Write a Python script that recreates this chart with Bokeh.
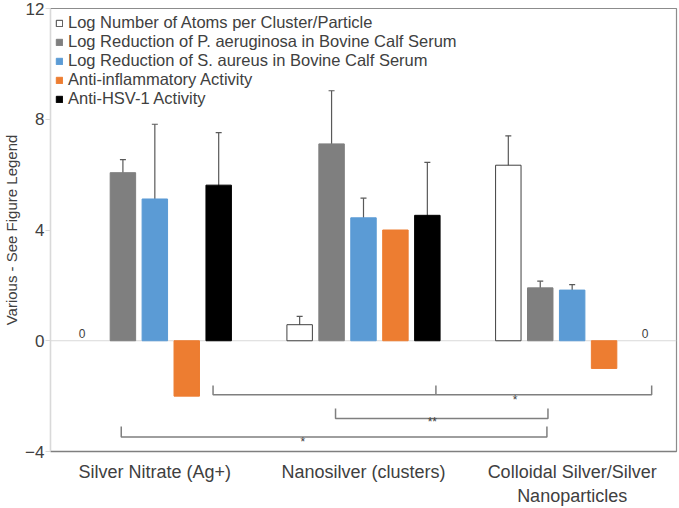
from bokeh.plotting import figure
from bokeh.models import (ColumnDataSource, FactorRange, Range1d, FixedTicker,
                          Whisker, TeeHead, Span, Legend, LegendItem)
from bokeh.transform import dodge
from bokeh.core.properties import value
from bokeh.embed import file_html
from bokeh.resources import INLINE

categories = ["Silver Nitrate (Ag+)", "Nanosilver (clusters)",
              "Colloidal Silver/Silver\nNanoparticles"]
series_names = ["Log Number of Atoms per Cluster/Particle",
                "Log Reduction of P. aeruginosa in Bovine Calf Serum",
                "Log Reduction of S. aureus in Bovine Calf Serum",
                "Anti-inflammatory Activity",
                "Anti-HSV-1 Activity"]
atoms = [0.0, 0.58, 6.34]
atoms_err = [0.0, 0.30, 1.06]
p_aeruginosa = [6.07, 7.11, 1.91]
p_aeruginosa_err = [0.47, 1.92, 0.24]
s_aureus = [5.12, 4.44, 1.83]
s_aureus_err = [2.70, 0.71, 0.20]
anti_inflammatory = [-2.0, 4.0, -1.0]
anti_inflammatory_err = [0.0, 0.0, 0.0]
anti_hsv = [5.62, 4.53, 0.0]
anti_hsv_err = [1.90, 1.91, 0.0]
y_ticks = [-4, 0, 4, 8, 12]

# significance brackets (category-axis units, data units)
bracket_start = [0.779, 1.366, 0.339]
bracket_end = [2.881, 2.384, 2.379]
bracket_level = [-1.95, -2.81, -3.48]
bracket_tip = [-1.62, -2.45, -3.10]
bracket_mid = [1.847, None, None]
bracket_label = ["*", "**", "*"]
label_x = [2.226, 1.83, 1.209]
label_y = [-2.13, -2.95, -3.66]

values = [atoms, p_aeruginosa, s_aureus, anti_inflammatory, anti_hsv]
errors = [atoms_err, p_aeruginosa_err, s_aureus_err, anti_inflammatory_err, anti_hsv_err]
fills = ["#ffffff", "#7f7f7f", "#5b9bd5", "#ed7d31", "#000000"]
lines = ["#404040", "#7f7f7f", "#5b9bd5", "#ed7d31", "#000000"]
offsets = [-0.306, -0.153, 0.0, 0.153, 0.306]

FONT = "Liberation Sans"
TXT = "#404040"

p = figure(x_range=FactorRange(*categories), y_range=Range1d(-4, 12),
           width=679, height=508, output_backend="svg", toolbar_location=None,
           min_border_top=8, min_border_right=3, min_border_left=10, min_border_bottom=0)
p.xgrid.grid_line_color = None
p.ygrid.grid_line_color = None
p.outline_line_color = "#8c8c8c"
p.outline_line_width = 1.2
p.x_range.range_padding = 0

p.add_layout(Span(location=0, dimension="width", line_color="#d9d9d9",
                  line_width=1, level="underlay"))

items = []
for i, name in enumerate(series_names):
    src = ColumnDataSource(dict(cat=categories, val=values[i],
                                la=[0.0 if v == 0 else 1.0 for v in values[i]]))
    r = p.vbar(x=dodge("cat", offsets[i], range=p.x_range), top="val", bottom=0,
               width=0.122, source=src, fill_color=fills[i], line_color=lines[i],
               line_alpha="la", line_width=1)
    items.append(LegendItem(label=name, renderers=[r], index=1))
    cats = [c for c, e in zip(categories, errors[i]) if e > 0]
    if cats:
        vals = [v for v, e in zip(values[i], errors[i]) if e > 0]
        errs = [e for e in errors[i] if e > 0]
        esrc = ColumnDataSource(dict(cat=cats,
                                     upper=[v + e for v, e in zip(vals, errs)],
                                     lower=[v - e for v, e in zip(vals, errs)]))
        w = Whisker(base=dodge("cat", offsets[i], range=p.x_range), upper="upper",
                    lower="lower", source=esrc, line_color="#595959", line_width=1.2,
                    upper_head=TeeHead(size=6, line_color="#595959", line_width=1.2),
                    lower_head=TeeHead(size=6, line_color="#595959", line_width=1.2))
        p.add_layout(w)

# zero-value data labels
p.text(x=dodge("cat", offsets[0], range=p.x_range), y="v", text="txt",
       source=ColumnDataSource(dict(cat=[categories[0]], v=[atoms[0]], txt=["0"])),
       x_offset=-9, y_offset=-3, text_align="center", text_baseline="bottom",
       text_font=value(FONT), text_font_size="12px", text_color=TXT)
p.text(x=dodge("cat", offsets[4], range=p.x_range), y="v", text="txt",
       source=ColumnDataSource(dict(cat=[categories[2]], v=[anti_hsv[2]], txt=["0"])),
       x_offset=9, y_offset=-3, text_align="center", text_baseline="bottom",
       text_font=value(FONT), text_font_size="12px", text_color=TXT)

# significance brackets
bx, by = [], []
for s, e, lv, tp, m in zip(bracket_start, bracket_end, bracket_level, bracket_tip, bracket_mid):
    bx.append([s, s, e, e])
    by.append([tp, lv, lv, tp])
    if m is not None:
        bx.append([m, m])
        by.append([lv, tp])
p.multi_line(xs=bx, ys=by, line_color="#7f7f7f", line_width=1.5)
p.text(x=label_x, y=label_y, text=bracket_label, text_align="center",
       text_baseline="middle", text_font=value(FONT), text_font_size="12px",
       text_color=TXT)

legend = Legend(items=items, location="top_left", border_line_color=None,
                background_fill_alpha=0, label_text_font=FONT,
                label_text_font_size="16.5px", label_text_color=TXT,
                glyph_width=8, glyph_height=8, label_height=16, label_standoff=5,
                spacing=0, padding=2, margin=5)
p.add_layout(legend)

p.yaxis.ticker = FixedTicker(ticks=y_ticks)
p.yaxis.axis_label = "Various - See Figure Legend"
p.yaxis.axis_label_text_font = FONT
p.yaxis.axis_label_text_font_size = "15px"
p.yaxis.axis_label_text_font_style = "normal"
p.yaxis.axis_label_text_color = TXT
p.yaxis.axis_label_standoff = 2
p.yaxis.major_label_text_font = FONT
p.yaxis.major_label_text_font_size = "17px"
p.yaxis.major_label_text_color = TXT
p.yaxis.axis_line_color = "#d9d9d9"
p.yaxis.major_tick_line_color = "#d9d9d9"
p.yaxis.major_tick_out = 5
p.yaxis.major_tick_in = 0
p.yaxis.minor_tick_line_color = None
p.yaxis.major_label_standoff = 1

p.xaxis.major_label_text_font = FONT
p.xaxis.major_label_text_font_size = "18px"
p.xaxis.major_label_text_color = TXT
p.xaxis.axis_line_color = "#7f7f7f"
p.xaxis.axis_line_width = 1.5
p.xaxis.major_tick_line_color = None
p.xaxis.major_label_standoff = 4

open("out.html", "w").write(file_html(p, INLINE))
